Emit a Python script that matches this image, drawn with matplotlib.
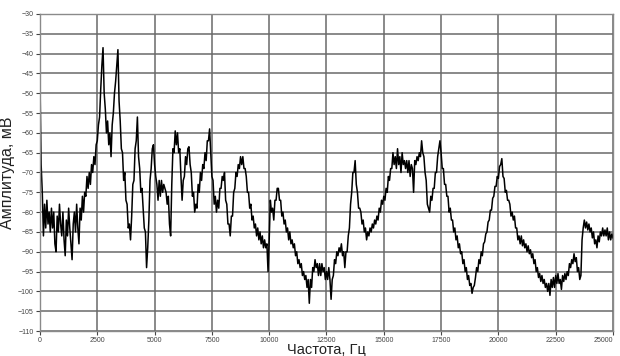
import numpy as np
import matplotlib
matplotlib.use("Agg")
from matplotlib import pyplot as plt

plt.rcParams['font.family'] = ['Liberation Sans', 'DejaVu Sans']

# -- DATA --: amplitude read every 50 Hz, 0 .. 25000 Hz
F_STEP = 50  # Hz
amplitude = [
    -47, -68, -75, -86, -78, -84, -77, -83, -80, -85,
    -79, -84, -80, -88, -90, -81, -85, -78, -83, -86,
    -80, -87, -91, -82, -86, -79, -84, -88, -92, -83,
    -80, -85, -78, -84, -88, -79, -82, -76, -80, -75,
    -76, -71, -74, -70, -73, -68, -70, -66, -68, -63,
    -62, -58, -56, -49, -43, -38.5, -50, -54, -60, -57,
    -63, -60, -66, -58, -55, -50, -47, -43, -39, -52,
    -57, -64, -65, -72, -70, -77, -78, -84, -83, -87,
    -81, -73, -72, -64, -62, -56, -66, -69, -75, -74,
    -79, -84, -85, -94, -89, -82, -72, -69, -64, -63,
    -68, -71, -73, -77, -72, -76, -72, -75, -73, -74,
    -75, -78, -76, -83, -86, -73, -64, -65, -59.5, -63,
    -60, -65, -64, -71, -77, -72, -71, -66, -68, -64,
    -63.5, -68, -70, -76, -75, -80, -78, -79, -73, -75,
    -70, -72, -68, -69, -65, -67, -62, -62, -59, -65,
    -71, -72, -78, -76, -80, -77, -79, -74, -74, -71,
    -72, -70, -77, -78, -83, -83, -86, -81, -81, -75,
    -74, -70, -71, -68, -69, -66, -68, -66, -69, -69,
    -71, -75, -75, -79, -78, -82, -81, -84, -83, -86,
    -84, -87, -85, -88, -86, -89, -87, -89, -88, -95,
    -87, -77, -80, -79, -82, -77, -77, -74, -74, -77,
    -77, -81, -80, -83, -82, -85, -84, -87, -85, -88,
    -87, -89, -88, -91, -90, -93, -92, -94, -93, -96,
    -95, -97, -96, -99, -97, -103, -97, -99, -94, -95,
    -92, -94, -93, -96, -93, -96, -93, -95, -94, -97,
    -95, -97, -94, -97, -102, -97, -96, -92, -93, -90,
    -91, -89, -90, -88, -91, -90, -94, -90, -90, -86,
    -84, -78, -75, -70, -70, -67, -73, -75, -79, -79,
    -80, -83, -82, -85, -84, -87, -85, -86, -84, -85,
    -83, -84, -82, -83, -81, -82, -79, -80, -77, -78,
    -76, -77, -74, -75, -71, -72, -69, -69, -65, -68,
    -66, -69, -64, -68, -66, -70, -65, -68, -67, -69,
    -67, -70, -67, -71, -68, -69, -75, -67, -68, -66,
    -67, -65, -66, -62, -65, -66, -70, -72, -78, -79,
    -80, -76, -77, -74, -74, -70, -70, -66, -64, -62,
    -65, -69, -69, -73, -73, -76, -76, -80, -79, -82,
    -82, -85, -84, -87, -86, -89, -88, -90.5, -90, -93,
    -92, -95, -94, -97, -96, -98.5, -98, -100.5, -99, -98.5,
    -96.5, -94, -95, -92, -93, -90, -91, -88, -87.5, -85.5,
    -85, -82.5, -82, -79.5, -79.5, -76.5, -76, -73.5, -73.5, -71,
    -71.5, -68.5, -68, -66.5, -71, -71.5, -75, -74.5, -77, -77,
    -78, -81, -80, -82, -81, -84, -84, -87, -86, -88,
    -86, -88.5, -87, -89, -88, -90, -88.5, -90.5, -89.5, -91.5,
    -90.5, -93, -92, -95, -94, -96.5, -95.5, -97.5, -96, -98,
    -97, -99, -98, -100, -98, -101, -97, -99, -96.5, -99,
    -96, -98, -95.5, -98, -97, -99.5, -96, -97.5, -95.5, -97,
    -95, -96, -93, -94, -92, -93, -90.5, -92.5, -91.5, -95,
    -94, -97, -96, -87, -84, -82, -84, -82.5, -84.5, -83,
    -85, -84, -86.5, -85, -88, -87, -89, -86, -87.5, -85,
    -86, -84, -86, -84.5, -86, -84, -87, -85, -87, -85.5,
    -86.5,
]
freq = np.arange(len(amplitude)) * F_STEP

x_ticks = [0, 2500, 5000, 7500, 10000, 12500, 15000, 17500, 20000, 22500, 25000]
y_ticks = list(range(-110, -25, 5))

# -- PLOT --
fig = plt.figure(figsize=(6.2, 3.56), dpi=100)
ax = fig.add_axes([0.0645, 0.0702, 0.9242, 0.8905])

ax.plot(freq, amplitude, color='black', lw=1.1)

ax.set_xlim(0, 25000)
ax.set_ylim(-110, -30)
ax.set_xticks(x_ticks)
ax.set_yticks(y_ticks)
ax.grid(True, color='#6a6a6a', lw=1.1)
ax.set_axisbelow(True)
for s in ax.spines.values():
    s.set_color('#8a8a8a')
    s.set_linewidth(1.0)
ax.tick_params(labelsize=5, colors='#444444', length=3, width=0.8, pad=1.5)
ax.get_xticklabels()[-1].set_horizontalalignment('right')

ax.set_ylabel('Амплитуда, мВ', fontsize=11.5, color='#222222', labelpad=2)
ax.set_xlabel('Частота, Гц', fontsize=10.5, color='#222222', labelpad=-1)

fig.savefig('out.png', dpi=100)
